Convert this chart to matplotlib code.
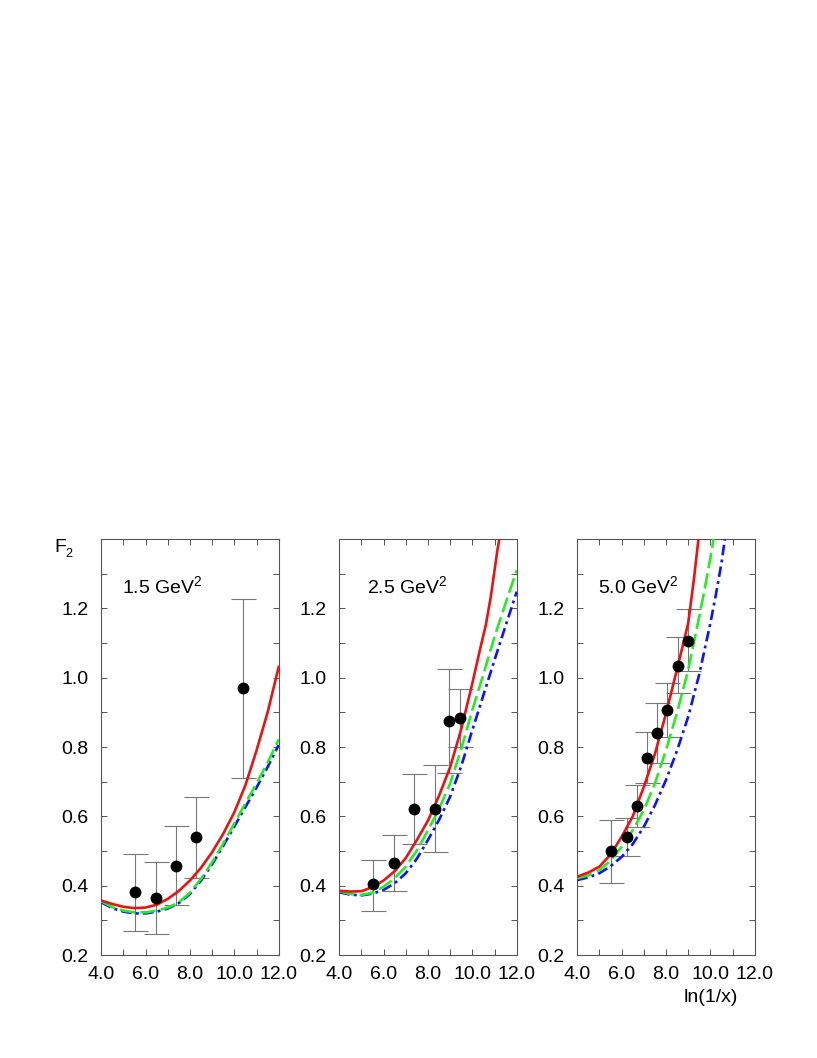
import matplotlib
matplotlib.use("Agg")
import matplotlib.pyplot as plt
from matplotlib.ticker import MultipleLocator, FixedLocator, FixedFormatter

plt.rcParams['font.family'] = ['Liberation Sans', 'DejaVu Sans']
plt.rcParams['mathtext.fontset'] = 'custom'
plt.rcParams['mathtext.rm'] = 'Liberation Sans'
plt.rcParams['mathtext.it'] = 'Liberation Sans:italic'

# ---------------- data ----------------
panel_labels = ["1.5 GeV$^2$", "2.5 GeV$^2$", "5.0 GeV$^2$"]

# data points: x, y, upper error end, lower error end
p1_x = [5.52, 6.47, 7.35, 8.29, 10.41]
p1_y = [0.381, 0.364, 0.458, 0.539, 0.969]
p1_hi = [0.492, 0.469, 0.571, 0.657, 1.226]
p1_lo = [0.268, 0.260, 0.344, 0.421, 0.711]

p2_x = [5.52, 6.48, 7.39, 8.31, 8.96, 9.44]
p2_y = [0.404, 0.465, 0.622, 0.622, 0.876, 0.884]
p2_hi = [0.475, 0.545, 0.721, 0.747, 1.024, 0.968]
p2_lo = [0.328, 0.385, 0.520, 0.497, 0.724, 0.801]

p3_x = [5.54, 6.25, 6.67, 7.15, 7.59, 8.06, 8.56, 8.98]
p3_y = [0.500, 0.539, 0.630, 0.769, 0.839, 0.907, 1.033, 1.106]
p3_hi = [0.589, 0.594, 0.690, 0.842, 0.926, 0.984, 1.116, 1.197]
p3_lo = [0.409, 0.486, 0.570, 0.697, 0.755, 0.830, 0.955, 1.019]

# model curves
c_x = [4.0, 4.5, 5.0, 5.5, 6.0, 6.5, 7.0, 7.5, 8.0, 8.5, 9.0, 9.5, 10.0, 10.5, 11.0, 11.5, 12.0]

c1_red = [0.357, 0.347, 0.339, 0.335, 0.337, 0.345, 0.362, 0.385, 0.415, 0.452, 0.497, 0.550, 0.612, 0.690, 0.790, 0.900, 1.031]
c1_green = [0.355, 0.338, 0.328, 0.323, 0.323, 0.328, 0.337, 0.352, 0.380, 0.420, 0.468, 0.522, 0.580, 0.638, 0.695, 0.755, 0.822]
c1_blue = [0.352, 0.335, 0.325, 0.320, 0.320, 0.325, 0.334, 0.350, 0.376, 0.415, 0.462, 0.515, 0.571, 0.627, 0.683, 0.742, 0.806]

c2_red_x = [4.0, 4.5, 5.0, 5.5, 6.0, 6.5, 7.0, 7.5, 8.0, 8.5, 9.0, 9.5, 10.0, 10.34, 10.6, 10.83, 11.13, 11.3]
c2_red = [0.385, 0.383, 0.384, 0.396, 0.415, 0.442, 0.480, 0.532, 0.588, 0.660, 0.742, 0.852, 0.984, 1.080, 1.150, 1.233, 1.368, 1.43]
c2_green = [0.384, 0.376, 0.373, 0.380, 0.397, 0.422, 0.455, 0.502, 0.560, 0.622, 0.695, 0.795, 0.907, 1.010, 1.118, 1.215, 1.310]
c2_blue = [0.381, 0.374, 0.372, 0.377, 0.388, 0.407, 0.436, 0.478, 0.532, 0.590, 0.657, 0.745, 0.849, 0.950, 1.051, 1.150, 1.248]

c3_red_x = [4.0, 4.5, 5.0, 5.5, 6.0, 6.5, 7.0, 7.5, 8.0, 8.5, 9.0, 9.25, 9.5]
c3_red = [0.426, 0.438, 0.455, 0.490, 0.541, 0.600, 0.685, 0.780, 0.897, 1.025, 1.157, 1.28, 1.42]
c3_green_x = [4.0, 4.5, 5.0, 5.5, 6.0, 6.5, 7.0, 7.5, 8.0, 8.5, 9.0, 9.5, 9.75, 10.0, 10.2]
c3_green = [0.421, 0.430, 0.445, 0.472, 0.512, 0.560, 0.618, 0.695, 0.791, 0.900, 1.022, 1.176, 1.258, 1.345, 1.42]
c3_blue_x = [4.0, 4.5, 5.0, 5.5, 6.0, 6.5, 7.0, 7.5, 8.0, 8.5, 9.0, 9.5, 10.0, 10.25, 10.5, 10.7]
c3_blue = [0.416, 0.424, 0.436, 0.456, 0.483, 0.520, 0.570, 0.632, 0.705, 0.790, 0.887, 1.010, 1.157, 1.24, 1.33, 1.42]

x_ticks = [4.0, 6.0, 8.0, 10.0, 12.0]
x_tick_labels = ["4.0", "6.0", "8.0", "10.0", "12.0"]
y_ticks = [0.2, 0.4, 0.6, 0.8, 1.0, 1.2]
y_tick_labels = ["0.2", "0.4", "0.6", "0.8", "1.0", "1.2"]

panels = [
    dict(px=p1_x, py=p1_y, hi=p1_hi, lo=p1_lo,
         red=(c_x, c1_red), green=(c_x, c1_green), blue=(c_x, c1_blue), tx=0.115),
    dict(px=p2_x, py=p2_y, hi=p2_hi, lo=p2_lo,
         red=(c2_red_x, c2_red), green=(c_x, c2_green), blue=(c_x, c2_blue), tx=0.154),
    dict(px=p3_x, py=p3_y, hi=p3_hi, lo=p3_lo,
         red=(c3_red_x, c3_red), green=(c3_green_x, c3_green), blue=(c3_blue_x, c3_blue), tx=0.118),
]

# ---------------- figure ----------------
W, H = 817, 1058
fig = plt.figure(figsize=(W / 100, H / 100), dpi=100)
lefts = [101.3, 339.3, 577.3]
pw, bottom_px, top_px = 177.4, 955, 539

frame_col = '#555555'
FS = 14
LW = 1.9
for i, (lp, d) in enumerate(zip(lefts, panels)):
    ax = fig.add_axes([lp / W, (H - bottom_px) / H, pw / W, (bottom_px - top_px) / H])
    ax.set_xlim(4.0, 12.0)
    ax.set_ylim(0.2, 1.4)

    # error bars
    yerr = [[y - l for y, l in zip(d['py'], d['lo'])], [h - y for y, h in zip(d['py'], d['hi'])]]
    ax.errorbar(d['px'], d['py'], yerr=yerr, fmt='none', ecolor='#777777',
                elinewidth=0.8, capsize=9, capthick=0.8, zorder=2)

    ax.plot(*d['blue'], color='#0a14ff', lw=LW, dashes=(4.0, 1.6, 1.1, 1.6), zorder=3)
    ax.plot(*d['green'], color='#22ee22', lw=LW, dashes=(5.8, 2.0), zorder=4)
    ax.plot(*d['red'], color='#ee1111', lw=LW, zorder=5)

    ax.plot(d['px'], d['py'], 'o', color='black', ms=7.5, zorder=6)

    ax.xaxis.set_major_locator(FixedLocator(x_ticks))
    ax.xaxis.set_major_formatter(FixedFormatter(x_tick_labels))
    ax.xaxis.set_minor_locator(MultipleLocator(1.0))
    ax.yaxis.set_major_locator(FixedLocator(y_ticks))
    ax.yaxis.set_major_formatter(FixedFormatter(y_tick_labels))
    ax.yaxis.set_minor_locator(MultipleLocator(0.1))
    ax.tick_params(which='both', direction='in', top=True, right=True,
                   length=4.2, width=0.7, color=frame_col, labelsize=FS)
    ax.tick_params(axis='y', which='major', pad=9)
    ax.tick_params(axis='x', which='major', pad=8)
    for s in ax.spines.values():
        s.set_color(frame_col)
        s.set_linewidth(0.8)

    ax.text(d['tx'], 0.870, panel_labels[i], transform=ax.transAxes,
            fontsize=FS, ha='left', va='baseline')

fig.text(54 / W, 1 - 552 / H, "F", fontsize=FS, ha='left', va='baseline')
fig.text(65 / W, 1 - 557 / H, "2", fontsize=9, ha='left', va='baseline')
fig.text(711 / W, 1 - 998 / H, "ln(1/x)", fontsize=FS, ha='center', va='center')

fig.savefig("out.png", dpi=100)
